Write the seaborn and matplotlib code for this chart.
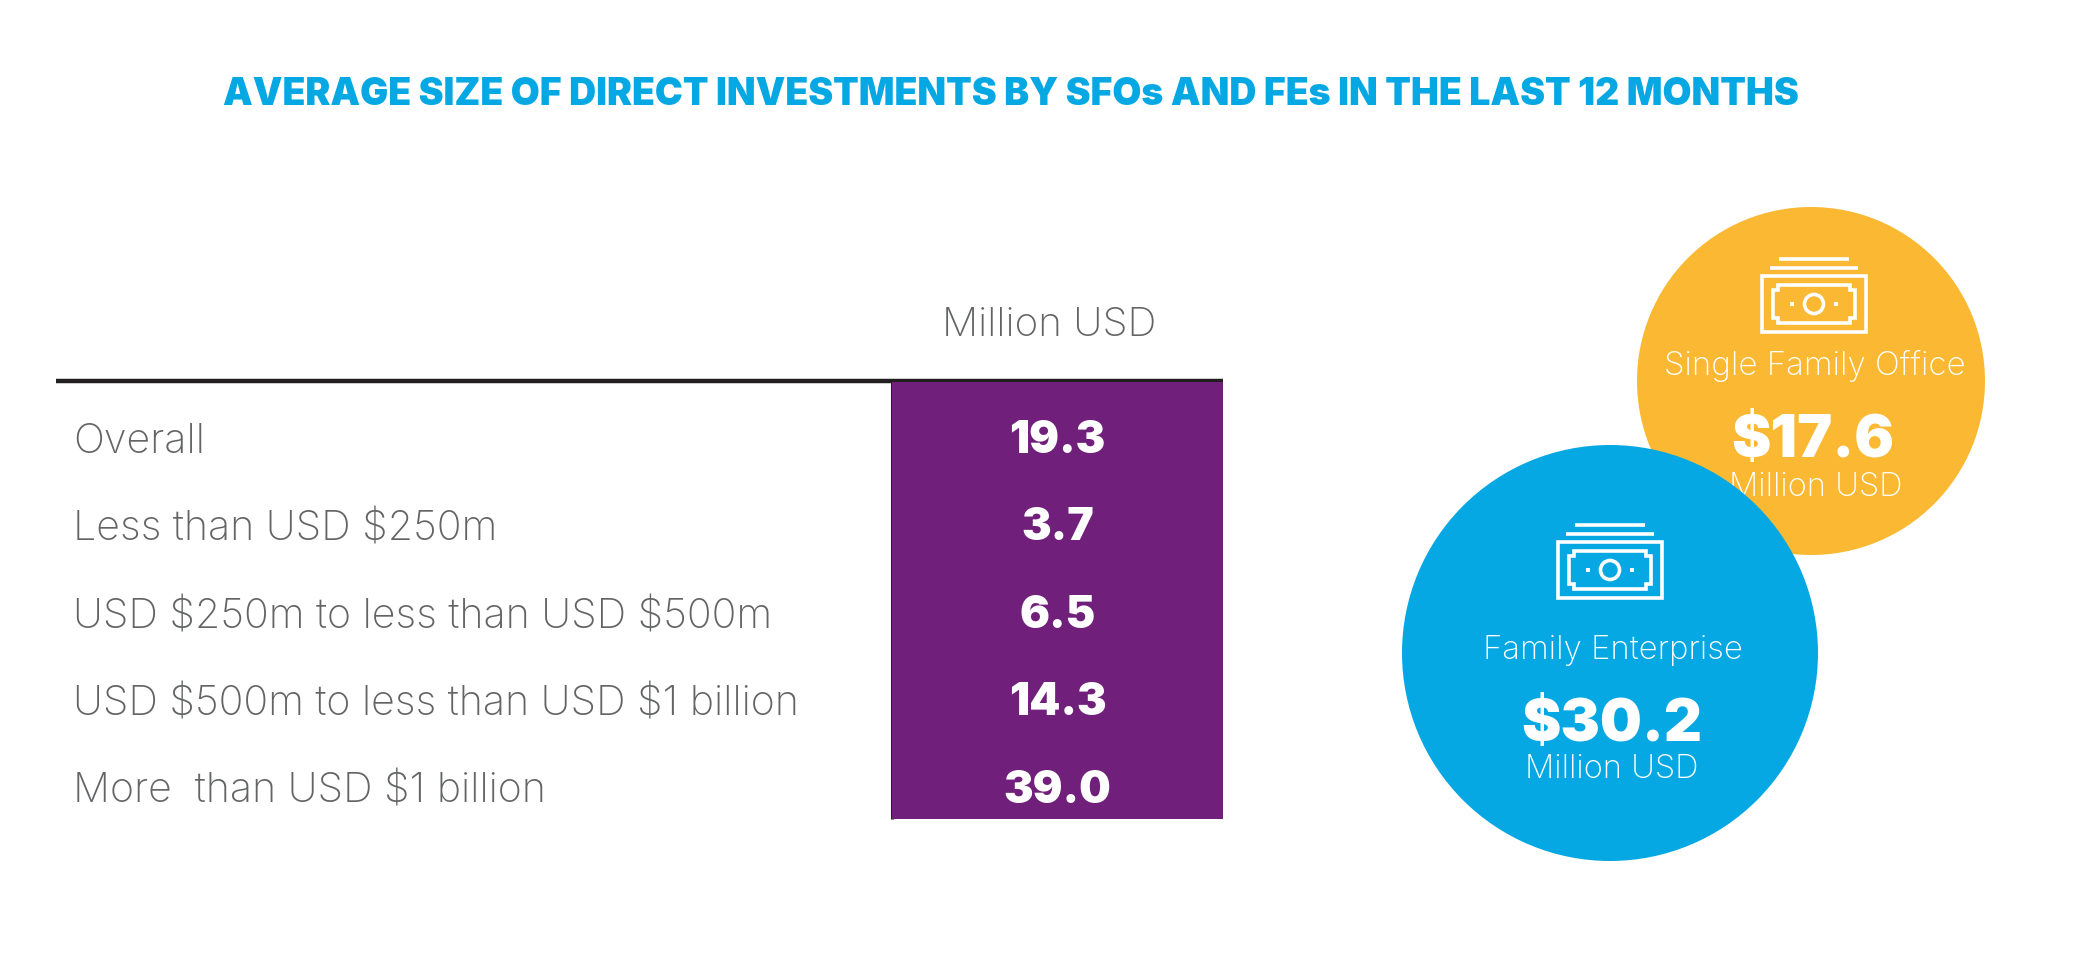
import numpy as np
import pandas as pd
import seaborn as sns
import matplotlib
matplotlib.use("Agg")
import matplotlib.pyplot as plt
from matplotlib.colors import ListedColormap
from matplotlib.patches import Circle, Ellipse, Polygon, Rectangle

# valores de la tabla
categorias = ["Overall", "Less than USD \\$250m", "USD \\$250m to less than USD \\$500m",
              "USD \\$500m to less than USD \\$1 billion", "More  than USD \\$1 billion"]
valores = [19.3, 3.7, 6.5, 14.3, 39.0]
columna = "Million USD"
titulo = "AVERAGE SIZE OF DIRECT INVESTMENTS BY SFOs AND FEs IN THE LAST 12 MONTHS"

# valores de los circulos
circulo_nombres = ["Single Family Office", "Family Enterprise"]
circulo_valores = [17.6, 30.2]

AZUL = "#05A8E2"
NARANJA = "#FBB832"
MORADO = "#70207A"
GRIS = "#636466"
NEGRO = "#231F20"
W, H = 2080, 966

sns.set_theme(style="white")
plt.rcParams["font.family"] = ["Inter", "DejaVu Sans"]

fig = plt.figure(figsize=(W / 100, H / 100), dpi=100, facecolor="white")

# capa de fondo en pixeles para textos y circulos
bg = fig.add_axes([0, 0, 1, 1])
bg.set_xlim(0, W)
bg.set_ylim(H, 0)
bg.axis("off")

# celda morada con heatmap
x0, x1, y0, y1 = 892, 1223, 382, 819
ax = fig.add_axes([x0 / W, 1 - y1 / H, (x1 - x0) / W, (y1 - y0) / H])
df = pd.DataFrame({columna: valores}, index=categorias)
sns.heatmap(df, ax=ax, cmap=ListedColormap([MORADO]), cbar=False, annot=False,
            xticklabels=False, yticklabels=False)
ax.set_xlabel("")
ax.set_ylabel("")
for i, v in enumerate(valores):
    ax.text(0.5, i + 0.675, f"{v:.1f}", color="white", fontsize=32, fontweight="black",
            ha="center", va="center")

bg.plot([56, x1], [381, 381], color=NEGRO, lw=3.2, solid_capstyle="butt")
bg.plot([x0, x0], [381, y1], color=NEGRO, lw=2.2, solid_capstyle="butt")
bg.text(1049, 325, columna, color=GRIS, fontsize=29, fontweight="light", ha="center", va="center")
for i, c in enumerate(categorias):
    bg.text(73, 442 + i * 87.5, c, color=GRIS, fontsize=29.6, fontweight="light", ha="left", va="center")

bg.text(1011, 95, titulo, color=AZUL, fontsize=26.95, fontweight="black", ha="center", va="center")


def billete(cx, cy, z):
    # icono del billete, centrado en cx, cy
    kw = dict(fill=False, ec="white", lw=2.6, zorder=z)
    bg.add_patch(Rectangle((cx - 52, cy - 28), 104, 56, **kw))
    n = 5
    a, b = 41, 19
    pts = [(-a + n, -b), (a - n, -b), (a - n, -b + n), (a, -b + n), (a, b - n), (a - n, b - n), (a - n, b),
           (-a + n, b), (-a + n, b - n), (-a, b - n), (-a, -b + n), (-a + n, -b + n)]
    bg.add_patch(Polygon([(cx + p[0], cy + p[1]) for p in pts], closed=True, **kw))
    bg.add_patch(Ellipse((cx, cy), 19, 19, **kw))
    for dx in (-22, 22):
        bg.add_patch(Rectangle((cx + dx - 2, cy - 2), 4, 4, fc="white", ec="none", zorder=z))
    bg.plot([cx - 44, cx + 44], [cy - 36, cy - 36], color="white", lw=2.6, zorder=z, solid_capstyle="butt")
    bg.plot([cx - 35, cx + 35], [cy - 45.5, cy - 45.5], color="white", lw=2.6, zorder=z, solid_capstyle="butt")


# circulo naranja (queda debajo del azul)
bg.add_patch(Circle((1811, 381), 174, fc=NARANJA, ec="none", zorder=2))
billete(1814, 304, 3)
bg.text(1815, 366, circulo_nombres[0], color="white", fontsize=23.8, fontweight="light", ha="center", va="center", zorder=3)
bg.text(1813, 441, f"\\${circulo_valores[0]:.1f}", color="white", fontsize=42.5, fontweight="black", ha="center", va="center", zorder=3)
bg.text(1816, 488, columna, color="white", fontsize=23.5, fontweight="light", ha="center", va="center", zorder=3)

# circulo azul
bg.add_patch(Circle((1610, 653), 208, fc=AZUL, ec="none", zorder=4))
billete(1610, 570, 5)
bg.text(1613, 650, circulo_nombres[1], color="white", fontsize=23.7, fontweight="light", ha="center", va="center", zorder=5)
bg.text(1612, 726, f"\\${circulo_valores[1]:.1f}", color="white", fontsize=42.5, fontweight="black", ha="center", va="center", zorder=5)
bg.text(1612, 770, columna, color="white", fontsize=23.5, fontweight="light", ha="center", va="center", zorder=5)

fig.savefig("out.png", dpi=100)
